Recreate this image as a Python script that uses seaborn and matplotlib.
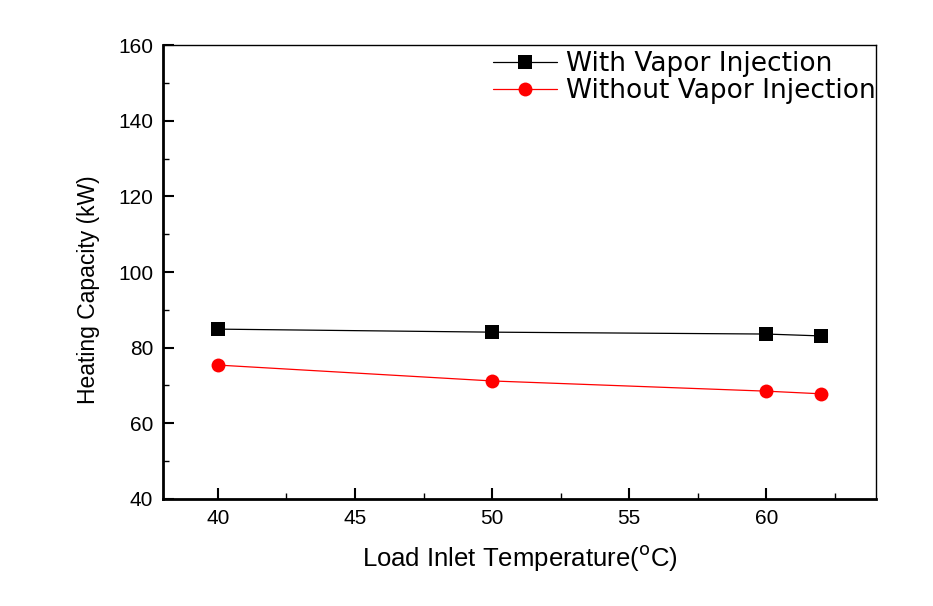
import matplotlib
matplotlib.use("Agg")
import matplotlib.pyplot as plt
import seaborn as sns
import pandas as pd
from matplotlib.ticker import MultipleLocator

temps = [40, 50, 60, 62]
with_vi = [84.9, 84.1, 83.6, 83.1]
without_vi = [75.4, 71.2, 68.5, 67.8]

sns.set_theme(style="white")
plt.rcParams['font.family'] = ['Liberation Sans', 'DejaVu Sans']
plt.rcParams['text.color'] = 'black'

df = pd.DataFrame({
    "T": temps * 2,
    "Q": with_vi + without_vi,
    "series": ["With Vapor Injection"] * len(temps) + ["Without Vapor Injection"] * len(temps),
})

fig = plt.figure(figsize=(9.33, 6.06), dpi=100)
ax = fig.add_axes([0.1747, 0.1766, 0.7643, 0.7491])

sns.lineplot(data=df, x="T", y="Q", hue="series", style="series",
             palette={"With Vapor Injection": "black", "Without Vapor Injection": "red"},
             markers={"With Vapor Injection": "s", "Without Vapor Injection": "o"},
             dashes=False, markersize=10, linewidth=0.9, markeredgewidth=0,
             ax=ax)

ax.set_xlim(38, 64)
ax.set_ylim(40, 160)
ax.xaxis.set_major_locator(MultipleLocator(5))
ax.xaxis.set_minor_locator(MultipleLocator(2.5))
ax.yaxis.set_major_locator(MultipleLocator(20))
ax.yaxis.set_minor_locator(MultipleLocator(10))
ax.tick_params(axis="both", which="major", direction="in", length=8, width=1.5,
               labelsize=15, color="black", labelcolor="black", pad=7,
               bottom=True, left=True, top=False, right=False)
ax.tick_params(axis="both", which="minor", direction="in", length=4, width=1,
               color="black", bottom=True, left=True, top=False, right=False)
for side in ["left", "bottom"]:
    ax.spines[side].set_linewidth(2)
    ax.spines[side].set_color("black")
for side in ["top", "right"]:
    ax.spines[side].set_linewidth(1)
    ax.spines[side].set_color("black")

ax.set_xlabel("Load Inlet Temperature($^{\\rm o}$C)", fontsize=18.5, color="black", labelpad=11)
ax.set_ylabel("Heating Capacity (kW)", fontsize=16.5, color="black")
ax.yaxis.set_label_coords(-0.088, 0.46)

leg = ax.legend(loc="upper right", frameon=False, handlelength=2.4,
                bbox_to_anchor=(1.005, 0.996), borderaxespad=0.0, borderpad=0.15,
                labelspacing=0.05, handletextpad=0.35, labelcolor="black",
                prop={"family": "DejaVu Sans", "size": 19})

fig.savefig("out.png", dpi=100)
